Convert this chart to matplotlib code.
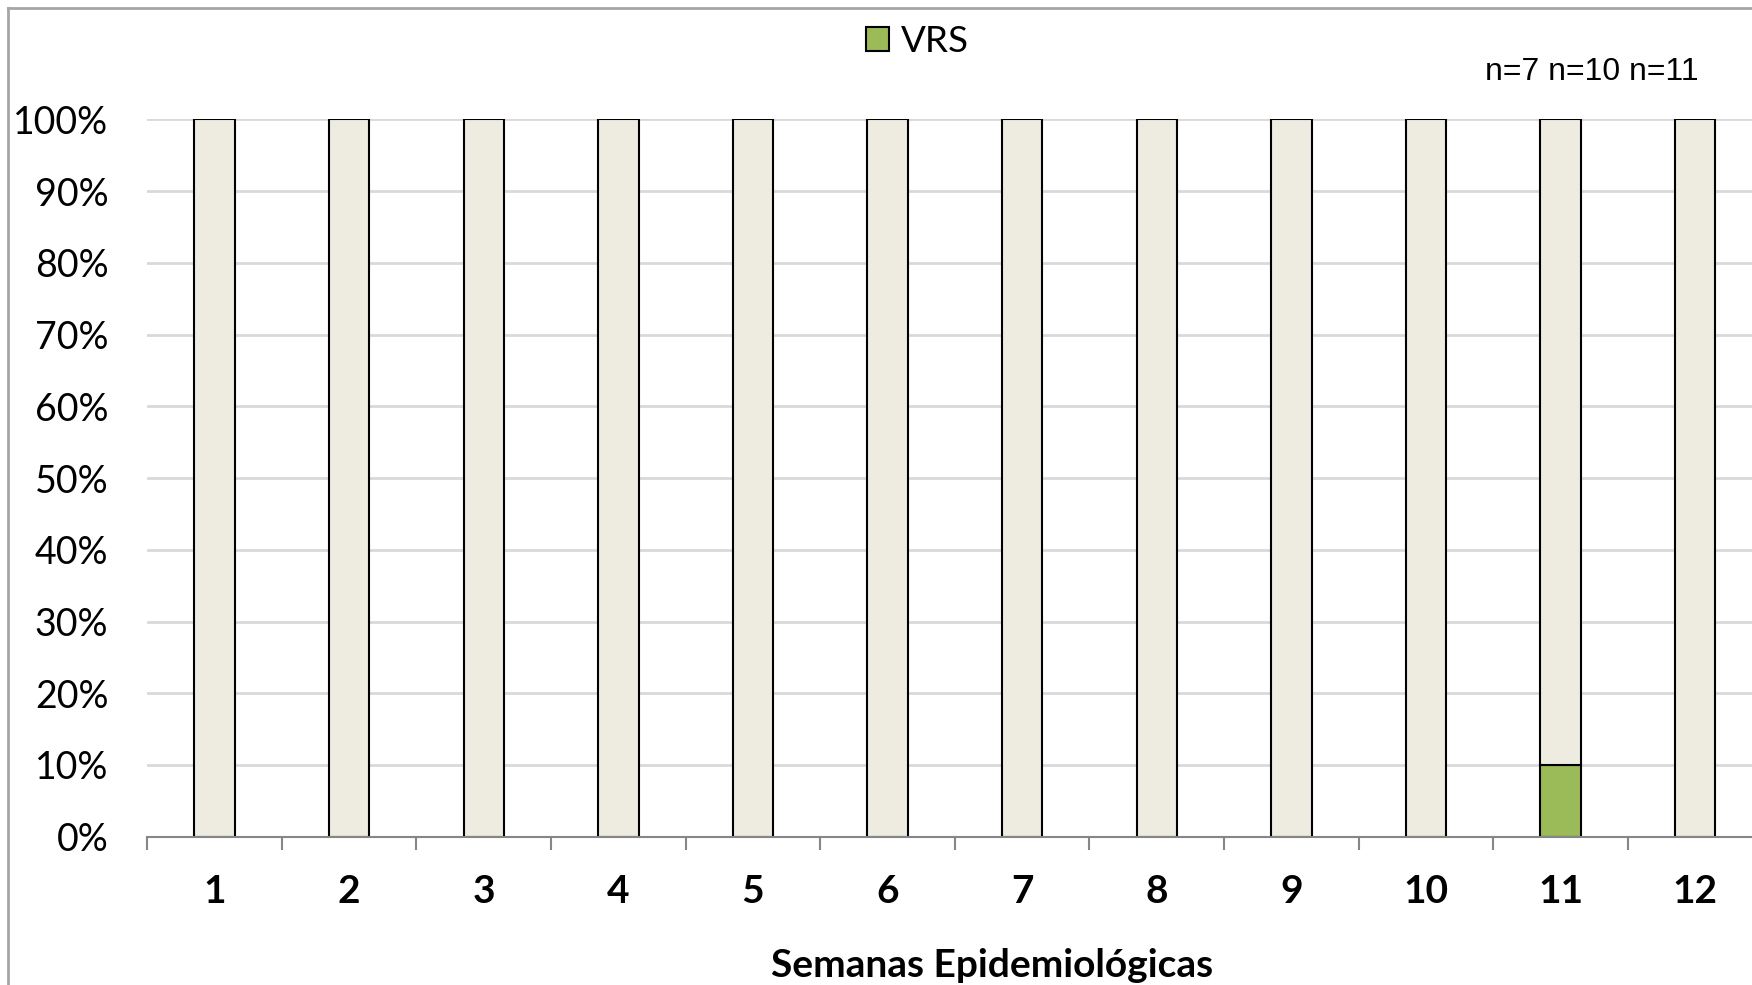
import matplotlib
matplotlib.use("Agg")
import matplotlib.pyplot as plt
from matplotlib.lines import Line2D
import numpy as np

semanas = ['1', '2', '3', '4', '5', '6', '7', '8', '9', '10', '11', '12']
vrs = [0, 0, 0, 0, 0, 0, 0, 0, 0, 0, 10, 0]
otros = [100, 100, 100, 100, 100, 100, 100, 100, 100, 100, 90, 100]
y_ticks = [0, 10, 20, 30, 40, 50, 60, 70, 80, 90, 100]
nota = 'n=7 n=10 n=11'

plt.rcParams['font.family'] = ['Lato', 'DejaVu Sans']

fig = plt.figure(figsize=(17.52, 9.85), dpi=100)
ax = fig.add_axes([0.0840, 0.1506, 0.9220, 0.7281])

x = np.arange(len(semanas))
b_vrs = ax.bar(x, vrs, width=0.3, color='#9BBB59', edgecolor='black', linewidth=1.5, zorder=3)
ax.bar(x, otros, width=0.3, bottom=vrs, color='#EEECE1', edgecolor='black', linewidth=1.5, zorder=3)

ax.set_xlim(-0.5, 11.5)
ax.set_ylim(0, 100)
ax.set_yticks(y_ticks)
ax.set_yticklabels([str(v) + '%' for v in y_ticks], fontsize=27)
ax.set_xticks(x)
ax.set_xticklabels(semanas, fontsize=28, fontweight='bold')
ax.set_xticks(np.arange(-0.5, 12, 1), minor=True)
ax.tick_params(axis='x', which='major', length=0, pad=27)
ax.tick_params(axis='x', which='minor', length=9, width=1.5, color='#868686')
ax.tick_params(axis='y', length=0, pad=28)

ax.yaxis.grid(True, color='#d9d9d9', linewidth=2, zorder=0)
ax.set_axisbelow(True)
for s in ['top', 'right', 'left']:
    ax.spines[s].set_visible(False)
ax.spines['bottom'].set_color('#868686')
ax.spines['bottom'].set_linewidth(1.5)
ax.spines['bottom'].set_zorder(4)

fig.text(0.5662, 0.020, 'Semanas Epidemiológicas', fontsize=28, fontweight='bold',
         ha='center', va='center')
fig.text(0.9088, 0.927, nota, fontsize=23, family=['Liberation Sans'],
         ha='center', va='center')

fig.legend([b_vrs], ['VRS'], loc='center', bbox_to_anchor=(0.5234, 0.958),
           frameon=False, fontsize=26.5, handlelength=0.65, handleheight=0.65,
           handletextpad=0.3)

# borde del gráfico
fig.add_artist(Line2D([8 / 1752, 8 / 1752], [0, 1 - 8 / 985], color='#a6a6a6', linewidth=2))
fig.add_artist(Line2D([8 / 1752, 1], [1 - 8 / 985, 1 - 8 / 985], color='#a6a6a6', linewidth=2))

fig.savefig('out.png', dpi=100)
